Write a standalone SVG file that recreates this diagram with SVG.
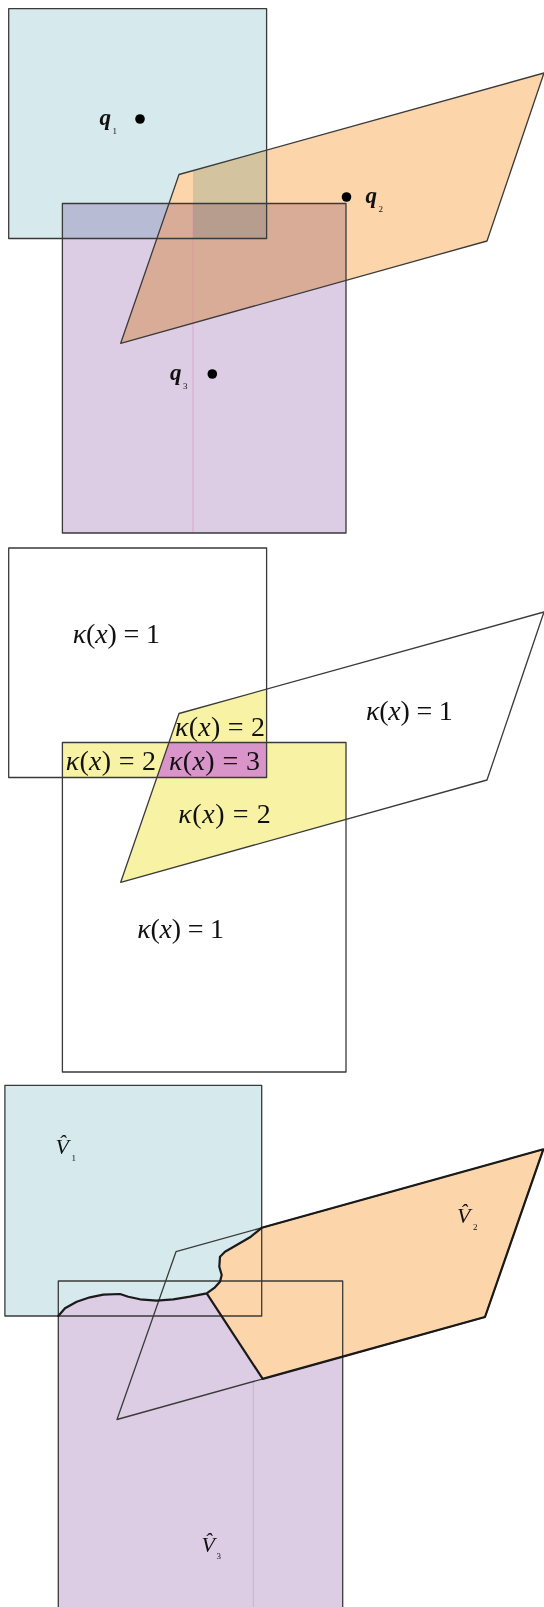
<svg xmlns="http://www.w3.org/2000/svg" width="544" height="1607" viewBox="0 0 544 1607">
<style>
.cyan{fill:#d6e9ed}
.orange{fill:#fcd6aa}
.purple{fill:#dccde4}
.mul{mix-blend-mode:multiply}
.yellow{fill:#f8f2a5}
.pink{fill:#d994c9}
.thin{fill:none;stroke:#3a3a3a;stroke-width:1.3;stroke-linejoin:round}
.thick{fill:none;stroke:#1a1a1a;stroke-width:2.2;stroke-linejoin:round;stroke-linecap:round}
.q{font-family:"Liberation Serif","Times New Roman",serif;font-style:italic;font-weight:bold;font-size:23px;fill:#111}
.sub{font-family:"Liberation Serif","Times New Roman",serif;font-size:9px;fill:#111}
.k{font-family:"Liberation Serif","Times New Roman",serif;font-size:28px;fill:#111}
.it{font-style:italic}
.v{font-family:"Liberation Serif","Times New Roman",serif;font-style:italic;font-size:22px;fill:#111}
</style>
<rect width="544" height="1607" fill="#ffffff"/>

<!-- Panel 1 -->
<g id="panel1">
  <g id="p1-rect1"><rect class="cyan" x="8.7" y="8.7" width="257.9" height="229.8"/></g>
  <g id="p1-para">
    <polygon class="orange mul" points="179,174.5 544,73 487,241 120.7,343.3"/>
    <polygon class="orange" points="179,174.5 193,170.6 193,238.5 156.9,238.5"/>
  </g>
  <g id="p1-rect3"><rect class="purple mul" x="62.4" y="203.5" width="283.6" height="329.5"/></g>
  <line x1="193" y1="203.5" x2="193" y2="533" stroke="#d98aa8" stroke-width="0.9" opacity="0.6"/>
  <rect class="thin" x="8.7" y="8.7" width="257.9" height="229.8"/>
  <rect class="thin" x="62.4" y="203.5" width="283.6" height="329.5"/>
  <polygon class="thin" points="179,174.5 544,73 487,241 120.7,343.3" stroke="#222"/>
  <g id="p1-q1"><circle cx="140" cy="119" r="4.8" fill="#000"/><text class="q" x="99.5" y="125">q</text><text class="sub" x="112.5" y="134">1</text></g>
  <g id="p1-q2"><circle cx="346.5" cy="197" r="4.8" fill="#000"/><text class="q" x="365.5" y="203">q</text><text class="sub" x="378.5" y="212">2</text></g>
  <g id="p1-q3"><circle cx="212.3" cy="374" r="4.8" fill="#000"/><text class="q" x="170" y="380">q</text><text class="sub" x="183" y="389">3</text></g>
</g>

<!-- Panel 2 -->
<g id="panel2">
  <g id="p2-fills">
    <polygon class="yellow" points="179,713.5 266.6,689.1 266.6,742.5 169,742.5"/>
    <polygon class="yellow" points="62.4,742.5 169,742.5 156.9,777.5 62.4,777.5"/>
    <polygon class="pink" points="169,742.5 266.6,742.5 266.6,777.5 156.9,777.5"/>
    <polygon class="yellow" points="266.6,742.5 346,742.5 346,819.4 120.7,882.3 156.9,777.5 266.6,777.5"/>
  </g>
  <g id="p2-rect1"><rect class="thin" x="8.7" y="548" width="257.9" height="229.5"/></g>
  <g id="p2-rect3"><rect class="thin" x="62.4" y="742.5" width="283.6" height="329.5"/></g>
  <g id="p2-para"><polygon class="thin" points="179,713.5 544,612 487,780 120.7,882.3" stroke="#222"/></g>
  <g id="p2-labels">
    <text class="k" x="72.7" y="643" textLength="87.3" lengthAdjust="spacing"><tspan class="it">κ</tspan>(<tspan class="it">x</tspan>) = 1</text>
    <text class="k" x="175" y="736" textLength="90" lengthAdjust="spacing"><tspan class="it">κ</tspan>(<tspan class="it">x</tspan>) = 2</text>
    <text class="k" x="65.7" y="770" textLength="90.3" lengthAdjust="spacing"><tspan class="it">κ</tspan>(<tspan class="it">x</tspan>) = 2</text>
    <text class="k" x="169" y="770" textLength="91" lengthAdjust="spacing"><tspan class="it">κ</tspan>(<tspan class="it">x</tspan>) = 3</text>
    <text class="k" x="178.3" y="823.3" textLength="92.4" lengthAdjust="spacing"><tspan class="it">κ</tspan>(<tspan class="it">x</tspan>) = 2</text>
    <text class="k" x="366" y="720" textLength="86.8" lengthAdjust="spacing"><tspan class="it">κ</tspan>(<tspan class="it">x</tspan>) = 1</text>
    <text class="k" x="137.3" y="938.3" textLength="86.7" lengthAdjust="spacing"><tspan class="it">κ</tspan>(<tspan class="it">x</tspan>) = 1</text>
  </g>
</g>

<!-- Panel 3 -->
<g id="panel3">
  <g id="p3-V1"><rect class="cyan" x="4.9" y="1085.3" width="256.8" height="230.7"/></g>
  <g id="p3-V2"><polygon class="orange" points="261.7,1227.8 543.3,1149.3 485,1317 262.7,1378.9 206.7,1293.3 215,1287.3 220,1281.7 221.7,1275 219.3,1266.7 220,1256.7 225,1251.7 236.7,1245 250,1237.3"/></g>
  <g id="p3-V3"><polygon class="purple" points="58.3,1316 65,1308.3 76.7,1301.7 90,1297.3 103.3,1294.7 120,1294 128.3,1296.7 140,1299.3 156.7,1300.7 173.3,1299.3 190,1296.7 206.7,1293.3 262.7,1378.9 342.7,1356.6 342.7,1611 58.3,1611"/></g>
  <line x1="253.3" y1="1381.5" x2="253.3" y2="1607" stroke="#a99cc8" stroke-width="0.9" opacity="0.6"/>
  <rect class="thin" x="4.9" y="1085.3" width="256.8" height="230.7"/>
  <rect class="thin" x="58.3" y="1281" width="284.4" height="330"/>
  <polygon class="thin" points="176,1251.7 543.3,1149.3 485,1317 117,1419.5"/>
  <g id="p3-boundaries">
    <polyline class="thick" points="58.3,1316 65,1308.3 76.7,1301.7 90,1297.3 103.3,1294.7 120,1294 128.3,1296.7 140,1299.3 156.7,1300.7 173.3,1299.3 190,1296.7 206.7,1293.3 262.7,1378.9 342.7,1356.6 485,1317 543.3,1149.3 261.7,1227.8 250,1237.3 236.7,1245 225,1251.7 220,1256.7 219.3,1266.7 221.7,1275 220,1281.7 215,1287.3 206.7,1293.3"/>
  </g>
  <g id="p3-labels">
    <text class="v" x="55.5" y="1154">V̂</text><text class="sub" x="71.5" y="1161">1</text>
    <text class="v" x="457" y="1222.7">V̂</text><text class="sub" x="473" y="1230">2</text>
    <text class="v" x="201.5" y="1552">V̂</text><text class="sub" x="216.5" y="1559">3</text>
  </g>
</g>
</svg>
